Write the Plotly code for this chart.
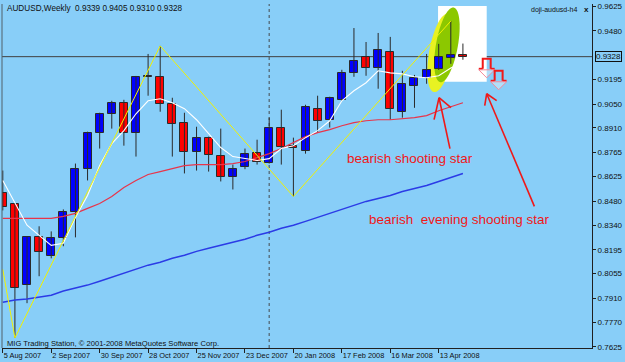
import math
import plotly.graph_objects as go

# ---------------- data ----------------
week_index = list(range(39))  # weekly bars from 5 Aug 2007 to 27 Apr 2008
opens  = [0.8531,0.8461,0.7988,0.8268,0.8157,0.8262,0.8414,0.8672,0.8882,0.8993,
          0.9058,0.8882,0.9207,0.9210,0.9052,0.8941,0.8771,0.8853,0.8748,0.8625,
          0.8678,0.8765,0.8707,0.8912,0.8806,0.8777,0.9023,0.8958,0.9075,0.9233,
          0.9327,0.9262,0.9356,0.9005,0.9157,0.9204,0.9257,0.9321,0.9339]
highs  = [0.8660,0.8467,0.8275,0.8333,0.8303,0.8432,0.8701,0.8888,0.8999,0.9069,
          0.9075,0.9215,0.9344,0.9391,0.9087,0.8999,0.8917,0.8859,0.8906,0.8695,
          0.8789,0.8841,0.8970,0.9017,0.8853,0.9046,0.9099,0.9093,0.9251,0.9496,
          0.9414,0.9467,0.9444,0.9245,0.9221,0.9344,0.9403,0.9537,0.9405]
lows   = [0.8426,0.7678,0.7882,0.8040,0.8145,0.8216,0.8268,0.8602,0.8789,0.8906,
          0.8806,0.8742,0.9099,0.9005,0.8742,0.8643,0.8660,0.8654,0.8596,0.8549,
          0.8668,0.8695,0.8701,0.8695,0.8508,0.8759,0.8882,0.8912,0.9069,0.9210,
          0.9216,0.9140,0.8958,0.8970,0.9028,0.9169,0.9250,0.9286,0.9310]
closes = [0.8444,0.7970,0.8268,0.8181,0.8262,0.8414,0.8672,0.8882,0.8993,0.9058,
          0.8882,0.9210,0.9212,0.9052,0.8935,0.8771,0.8853,0.8754,0.8625,0.8672,
          0.8759,0.8713,0.8912,0.8800,0.8795,0.9034,0.8952,0.9087,0.9233,0.9303,
          0.9262,0.9368,0.9023,0.9169,0.9204,0.9251,0.9327,0.9338,0.9328]

ma_white = [0.8602,0.8467,0.8339,0.8280,0.8221,0.8233,0.8385,0.8514,0.8689,0.8818,
            0.8894,0.8993,0.9069,0.9081,0.9058,0.9023,0.8958,0.8876,0.8795,0.8742,
            0.8730,0.8719,0.8730,0.8789,0.8806,0.8853,0.8894,0.8952,0.9069,0.9128,
            0.9175,0.9245,0.9233,0.9227,0.9210,0.9204,0.9216,0.9262,0.9292]
ma_red   = [0.8379,0.8379,0.8379,0.8379,0.8379,0.8391,0.8409,0.8438,0.8467,0.8508,
            0.8561,0.8602,0.8637,0.8654,0.8672,0.8689,0.8695,0.8695,0.8695,0.8701,
            0.8713,0.8736,0.8759,0.8789,0.8824,0.8859,0.8882,0.8900,0.8923,0.8941,
            0.8952,0.8958,0.8958,0.8964,0.8970,0.8982,0.9011,0.9034,0.9058]
ma_blue  = [0.7888,0.7900,0.7906,0.7917,0.7929,0.7953,0.7970,0.7988,0.8011,0.8034,
            0.8058,0.8081,0.8105,0.8122,0.8145,0.8163,0.8186,0.8204,0.8222,0.8239,
            0.8257,0.8280,0.8298,0.8321,0.8339,0.8362,0.8385,0.8409,0.8432,0.8455,
            0.8479,0.8496,0.8514,0.8537,0.8555,0.8572,0.8596,0.8619,0.8643]

zigzag_idx = [0, 1, 13, 24, 37]
zigzag_val = [0.8080, 0.7678, 0.9391, 0.8508, 0.9537]

x_tick_idx = [0, 4, 8, 12, 16, 20, 24, 28, 32, 36]
x_tick_labels = ["5 Aug 2007", "2 Sep 2007", "30 Sep 2007", "28 Oct 2007", "25 Nov 2007",
                 "23 Dec 2007", "20 Jan 2008", "17 Feb 2008", "16 Mar 2008", "13 Apr 2008"]
y_ticks = [0.9625, 0.9480, 0.9195, 0.9050, 0.8910, 0.8765, 0.8625, 0.8480,
           0.8340, 0.8195, 0.8055, 0.7910, 0.7770, 0.7625]
y_tick_labels = [f"{v:.4f}" for v in y_ticks]
last_price = 0.9328
separator_idx = 22

title_text = "AUDUSD,Weekly  0.9339 0.9405 0.9310 0.9328"
note1 = "bearish shooting star"
note2 = "bearish  evening shooting star"

# ---------------- layout geometry ----------------
W, H = 625, 362
ML, MR, MT, MB = 2, 29, 3, 14
PW, PH = W - ML - MR, H - MT - MB
X_RANGE = [-0.066, 48.66]
Y_RANGE = [0.7619, 0.9637]
BG = "#88CEF8"
EDGE = "#2a2a2a"


def pxd(px, py):
    """pixel position -> data coordinates (for hand-drawn decorations)"""
    x = X_RANGE[0] + (px - ML) / PW * (X_RANGE[1] - X_RANGE[0])
    y = Y_RANGE[1] - (py - MT) / PH * (Y_RANGE[1] - Y_RANGE[0])
    return x, y


def ellipse_path(cx, cy, a, b, ux, uy):
    n = math.hypot(ux, uy)
    ux, uy = ux / n, uy / n
    vx, vy = -uy, ux
    pts = []
    for k in range(60):
        t = 2 * math.pi * k / 60
        px = cx + a * math.cos(t) * ux + b * math.sin(t) * vx
        py = cy + a * math.cos(t) * uy + b * math.sin(t) * vy
        pts.append(pxd(px, py))
    return "M " + " L ".join(f"{x:.4f},{y:.5f}" for x, y in pts) + " Z"


def poly_path(points):
    pts = [pxd(px, py) for px, py in points]
    return "M " + " L ".join(f"{x:.4f},{y:.5f}" for x, y in pts) + " Z"


fig = go.Figure()

# wicks
wx, wy = [], []
for i, h, l in zip(week_index, highs, lows):
    wx += [i, i, None]
    wy += [l, h, None]
fig.add_trace(go.Scatter(x=wx, y=wy, mode="lines", line=dict(color=EDGE, width=1),
                         hoverinfo="skip", showlegend=False))
# bodies
bases = [min(o, c) for o, c in zip(opens, closes)]
heights = [max(abs(c - o), 0.00025) for o, c in zip(opens, closes)]
colors = ["#0000FF" if c >= o else "#FF0000" for o, c in zip(opens, closes)]
fig.add_trace(go.Bar(x=week_index, y=heights, base=bases, width=0.66,
                     marker=dict(color=colors, line=dict(color=EDGE, width=1)),
                     hoverinfo="skip", showlegend=False))

fig.add_trace(go.Scatter(x=week_index, y=ma_blue, mode="lines",
                         line=dict(color="#2B3BE6", width=1.5), showlegend=False))
fig.add_trace(go.Scatter(x=week_index, y=ma_red, mode="lines",
                         line=dict(color="#E8344A", width=1.2), showlegend=False))
fig.add_trace(go.Scatter(x=week_index, y=ma_white, mode="lines",
                         line=dict(color="#FFFFFF", width=1.1), showlegend=False))
fig.add_trace(go.Scatter(x=zigzag_idx, y=zigzag_val, mode="lines",
                         line=dict(color="#F2F200", width=1), showlegend=False))

shapes = []
# white highlight box
x0, y0 = pxd(441, 5)
x1, y1 = pxd(490, 81)
shapes.append(dict(type="rect", xref="x", yref="y", x0=x0, x1=x1, y0=y1, y1=y0,
                   fillcolor="white", line=dict(width=0), layer="below"))
# ellipses
shapes.append(dict(type="path", xref="x", yref="y", layer="below",
                   path=ellipse_path(444, 52, 40, 12, 15, -83),
                   fillcolor="#E8F222", line=dict(width=0)))
shapes.append(dict(type="path", xref="x", yref="y", layer="below",
                   path=ellipse_path(450, 44, 38, 11, 15, -83),
                   fillcolor="#8CC800", line=dict(width=0)))
# current price line
shapes.append(dict(type="line", xref="paper", yref="y", x0=0, x1=1,
                   y0=last_price, y1=last_price, line=dict(color="#404040", width=1),
                   layer="below"))
# period separator
shapes.append(dict(type="line", xref="x", yref="paper", x0=separator_idx, x1=separator_idx,
                   y0=0, y1=1, line=dict(color="#50606a", width=1.2, dash="dot"),
                   layer="below"))
# left frame line
shapes.append(dict(type="line", xref="paper", yref="paper", x0=0, x1=0, y0=0, y1=1,
                   line=dict(color="#50606a", width=1)))


# hand-drawn arrows
def seg(p, q, w=1.6):
    a = pxd(*p); b = pxd(*q)
    return dict(type="line", xref="x", yref="y", x0=a[0], y0=a[1], x1=b[0], y1=b[1],
                line=dict(color="#F01818", width=w))


shapes += [seg((453, 148), (442, 97)), seg((442, 97), (437, 119)), seg((442, 97), (454, 107)),
           seg((538, 206), (490, 93)), seg((490, 93), (488, 105)), seg((490, 93), (500, 100))]

# MT4 sell-arrow symbols (hollow down arrows)
for ox, oy in [(0, 0), (12, 12)]:
    stem = [(486 + ox, 68 + oy), (486 + ox, 58 + oy), (494 + ox, 58 + oy), (494 + ox, 68 + oy)]
    shapes.append(dict(type="path", xref="x", yref="y",
                       path="M " + " L ".join("%.4f,%.5f" % pxd(*p) for p in stem),
                       line=dict(color="#F01818", width=2)))
    shapes.append(dict(type="line", xref="x", yref="y",
                       x0=pxd(482 + ox, 68 + oy)[0], y0=pxd(482 + ox, 68 + oy)[1],
                       x1=pxd(486 + ox, 68 + oy)[0], y1=pxd(486 + ox, 68 + oy)[1],
                       line=dict(color="#F01818", width=2)))
    shapes.append(dict(type="line", xref="x", yref="y",
                       x0=pxd(494 + ox, 68 + oy)[0], y0=pxd(494 + ox, 68 + oy)[1],
                       x1=pxd(498 + ox, 68 + oy)[0], y1=pxd(498 + ox, 68 + oy)[1],
                       line=dict(color="#F01818", width=2)))
    shapes.append(dict(type="path", xref="x", yref="y",
                       path=poly_path([(482 + ox, 69 + oy), (498 + ox, 69 + oy), (490 + ox, 77 + oy)]),
                       fillcolor="rgba(255,255,255,0.35)", line=dict(color="#F58A9A", width=1)))

annotations = []
annotations.append(dict(xref="paper", yref="paper", x=0.005, y=1 - (8 - MT) / PH,
                        text=title_text, showarrow=False, xanchor="left", yanchor="middle",
                        font=dict(family="Liberation Sans", size=8.2, color="#101010")))
annotations.append(dict(xref="paper", yref="paper", x=0.005, y=(348 - 343) / PH,
                        text="MIG Trading Station, © 2001-2008 MetaQuotes Software Corp.",
                        showarrow=False, xanchor="left", yanchor="middle",
                        font=dict(family="Liberation Sans", size=7.6, color="#101010")))
annotations.append(dict(xref="paper", yref="paper", x=(583 - ML) / PW, y=1 - (9 - MT) / PH,
                        text="doji-audusd-h4", showarrow=False, xanchor="right", yanchor="middle",
                        font=dict(family="Liberation Sans", size=7, color="#101010")))
annotations.append(dict(xref="paper", yref="paper", x=(590 - ML) / PW, y=1 - (9 - MT) / PH,
                        text="<b>x</b>", showarrow=False, xanchor="center", yanchor="middle",
                        font=dict(family="Liberation Sans", size=8, color="#101010")))
ax, ay = pxd(347, 158)
annotations.append(dict(x=ax, y=ay, text=note1, showarrow=False, xanchor="left", yanchor="middle",
                        font=dict(family="Liberation Sans", size=13.5, color="#F01818")))
ax, ay = pxd(369, 219)
annotations.append(dict(x=ax, y=ay, text=note2, showarrow=False, xanchor="left", yanchor="middle",
                        font=dict(family="Liberation Sans", size=13.5, color="#F01818")))
annotations.append(dict(xref="paper", yref="y", x=1.0, y=last_price, xshift=3,
                        text="0.9328", showarrow=False, xanchor="left", yanchor="middle",
                        bordercolor="#101010", borderwidth=1, borderpad=0, bgcolor=BG,
                        font=dict(family="Liberation Sans", size=8, color="#101010")))

fig.update_layout(
    width=W, height=H, margin=dict(l=ML, r=MR, t=MT, b=MB),
    paper_bgcolor=BG, plot_bgcolor=BG, bargap=0,
    shapes=shapes, annotations=annotations, showlegend=False,
    xaxis=dict(range=X_RANGE, showgrid=False, zeroline=False,
               tickmode="array", tickvals=x_tick_idx, ticktext=x_tick_labels,
               ticks="outside", ticklen=4, tickcolor="#202020", ticklabelposition="outside right",
               tickangle=0, showline=True, linecolor="#202020", linewidth=1,
               tickfont=dict(family="Liberation Sans", size=7.4, color="#101010")),
    yaxis=dict(range=Y_RANGE, side="right", showgrid=False, zeroline=False,
               tickmode="array", tickvals=y_ticks, ticktext=y_tick_labels,
               ticks="outside", ticklen=3, tickcolor="#202020",
               showline=True, linecolor="#202020", linewidth=1,
               tickfont=dict(family="Liberation Sans", size=8, color="#101010")),
)

fig.write_html("out.html")
